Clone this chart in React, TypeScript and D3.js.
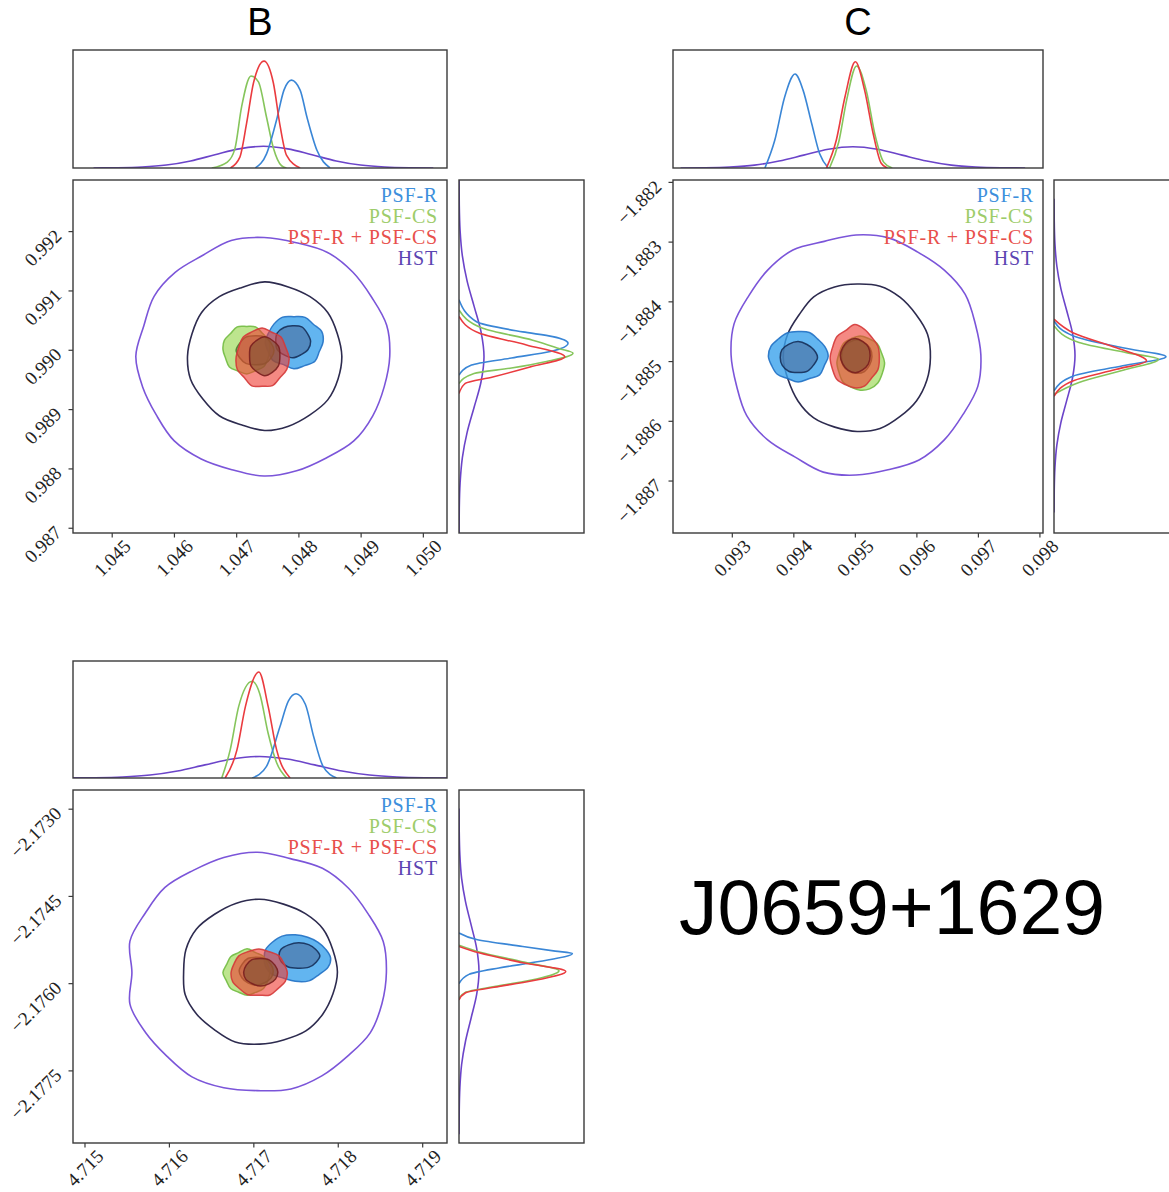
import React from 'react';
import * as d3 from 'd3';

// ---------- series ----------
const SERIES = ['PSF-R', 'PSF-CS', 'PSF-R + PSF-CS', 'HST'];
const LEGEND_COLORS = ['#3d8fdc', '#9dcc6a', '#e8504c', '#5b45b2'];
const LINE_COLORS = ['#3a86d6', '#86c55c', '#ea3b3f', '#6b44c9'];
const FILL_OUTER = ['#3ba3ec', '#91d443', '#ee3a30'];
const FILL_INNER = ['#476c9d', '#7c9359', '#805032'];
const STROKE_OUTER = ['#2271c4', '#72bb42', '#d43a3a'];
const STROKE_INNER = ['#16305a', '#4c7a2e', '#7a1f1f'];
const HST_STROKES = ['#7b55d9', '#2d2b4f'];

// ---------- panel B ----------
const bXTicks = [1.045, 1.046, 1.047, 1.048, 1.049, 1.05];
const bXLabels = ['1.045', '1.046', '1.047', '1.048', '1.049', '1.050'];
const bYTicks = [0.987, 0.988, 0.989, 0.99, 0.991, 0.992];
const bYLabels = ['0.987', '0.988', '0.989', '0.990', '0.991', '0.992'];
const bXDomain = [1.04437, 1.05038];
const bYDomain = [0.98692, 0.99287];
// [series (0 PSF-R, 1 PSF-CS, 2 PSF-R+PSF-CS, 3 HST), level (0 outer, 1 inner), cx, cy, rx, ry]
const bContours = [
  [3, 0, 1.04744, 0.9899, 0.00202, 0.002],
  [3, 1, 1.04745, 0.9899, 0.00124, 0.00124],
  [0, 0, 1.04792, 0.99014, 0.00046, 0.00044],
  [0, 1, 1.0479, 0.99015, 0.00028, 0.00027],
  [1, 0, 1.04716, 0.99001, 0.00038, 0.0004],
  [1, 1, 1.0473, 0.99, 0.0003, 0.00025],
  [2, 0, 1.04741, 0.98987, 0.00042, 0.00049],
  [2, 1, 1.04745, 0.9899, 0.00025, 0.00032],
];
const bWobble = [
  [1.0, 1.01, 0.99, 1.0, 1.01, 0.99, 1.0, 1.01, 0.98, 1.0, 1.01, 0.99, 1.02, 1.0, 0.99, 1.01, 1.0, 0.99, 1.01, 1.0, 0.99, 1.01, 1.0, 0.99],
  [1.0, 0.99, 1.01, 1.0, 0.99, 1.01, 0.98, 1.0, 1.01, 0.99, 1.0, 1.01, 0.99, 1.0, 0.98, 1.01, 1.0, 0.99, 1.01, 1.0],
  [1.02, 1.05, 0.96, 1.02, 0.97, 1.03, 0.98, 0.95, 1.0, 0.97, 1.02, 0.94, 1.03, 0.98, 1.04, 0.96],
  [1.03, 0.98, 1.04, 0.97, 1.0, 1.03, 0.97, 1.02, 0.98, 1.03, 0.96, 1.02],
  [0.98, 1.02, 0.96, 1.03, 0.98, 1.04, 0.96, 1.02, 1.0, 0.96, 1.03, 0.97, 1.02, 0.96, 1.02, 0.98],
  [1.0, 0.97, 1.03, 0.98, 1.02, 0.96, 1.03, 0.98, 1.02, 0.97, 1.03, 0.99],
  [1.03, 0.97, 1.02, 0.96, 1.03, 0.98, 1.02, 0.97, 1.0, 1.03, 0.96, 1.04, 0.97, 1.03, 0.96, 1.02],
  [0.98, 1.03, 0.97, 1.02, 0.98, 1.04, 0.97, 1.02, 0.96, 1.03, 0.98, 1.02],
];
// top marginal: [x, relative height]; order PSF-R, PSF-CS, PSF-R+PSF-CS, HST
const bTopMarg = [
  [[1.0473, 0], [1.04748, 0.12], [1.04764, 0.405], [1.04776, 0.66], [1.04788, 0.745], [1.04802, 0.66], [1.04813, 0.43], [1.04829, 0.15], [1.0485, 0]],
  [[1.0466, 0], [1.04685, 0.05], [1.04697, 0.16], [1.04708, 0.52], [1.04723, 0.78], [1.04735, 0.73], [1.04748, 0.43], [1.04759, 0.17], [1.04772, 0.02], [1.0478, 0]],
  [[1.0469, 0], [1.04705, 0.09], [1.04716, 0.38], [1.04727, 0.72], [1.04744, 0.906], [1.04759, 0.72], [1.0477, 0.35], [1.0478, 0.11], [1.04802, 0]],
  [[1.0447, 0.0004], [1.04509, 0.002], [1.04548, 0.008], [1.04587, 0.025], [1.04626, 0.06], [1.04665, 0.112], [1.04704, 0.162], [1.04743, 0.184],
   [1.04782, 0.162], [1.04821, 0.112], [1.0486, 0.06], [1.04899, 0.025], [1.04938, 0.008], [1.04977, 0.002], [1.05016, 0.0004]],
];
// right marginal: [y, relative width]
const bRightMarg = [
  [[0.99085, 0], [0.99048, 0.14], [0.99031, 0.51], [0.99023, 0.75], [0.99012, 0.872], [0.98998, 0.73], [0.98987, 0.42], [0.98975, 0.1], [0.98958, 0]],
  [[0.99068, 0], [0.99037, 0.19], [0.99017, 0.59], [0.99003, 0.8], [0.98995, 0.912], [0.98981, 0.7], [0.9897, 0.42], [0.98961, 0.12], [0.98944, 0]],
  [[0.99057, 0], [0.99029, 0.16], [0.99009, 0.54], [0.98989, 0.846], [0.98972, 0.57], [0.98955, 0.27], [0.98944, 0.05], [0.98927, 0]],
  [[0.992865, 0.0004], [0.99244, 0.0022], [0.992015, 0.0088], [0.99159, 0.027], [0.991165, 0.065], [0.99074, 0.121], [0.990315, 0.176], [0.98989, 0.2],
   [0.989465, 0.176], [0.98904, 0.121], [0.988615, 0.065], [0.98819, 0.027], [0.987765, 0.0088], [0.98734, 0.0022], [0.986915, 0.0004]],
];

// ---------- panel C ----------
const cXTicks = [0.093, 0.094, 0.095, 0.096, 0.097, 0.098];
const cXLabels = ['0.093', '0.094', '0.095', '0.096', '0.097', '0.098'];
const cYTicks = [-1.887, -1.886, -1.885, -1.884, -1.883, -1.882];
const cYLabels = ['\u22121.887', '\u22121.886', '\u22121.885', '\u22121.884', '\u22121.883', '\u22121.882'];
const cXDomain = [0.092036, 0.09805];
const cYDomain = [-1.88787, -1.88196];
const cContours = [
  [3, 0, 0.09501, -1.88489, 0.00203, 0.00201],
  [3, 1, 0.09503, -1.88493, 0.00119, 0.00124],
  [0, 0, 0.09407, -1.88491, 0.00047, 0.00042],
  [0, 1, 0.09407, -1.88493, 0.0003, 0.00026],
  [1, 0, 0.09508, -1.88502, 0.00038, 0.00045],
  [1, 1, 0.09502, -1.88492, 0.00025, 0.00028],
  [2, 0, 0.09499, -1.88494, 0.0004, 0.0005],
  [2, 1, 0.095, -1.8849, 0.00024, 0.00028],
];
const cWobble = [
  [1.0, 0.99, 1.01, 1.0, 0.99, 1.01, 1.0, 0.98, 1.01, 1.0, 0.99, 1.01, 1.0, 0.99, 1.01, 1.0, 0.98, 1.01, 1.0, 0.99, 1.01, 1.0, 0.99, 1.01],
  [1.0, 1.01, 0.99, 1.0, 1.01, 0.99, 1.0, 1.01, 0.98, 1.0, 1.01, 0.99, 1.0, 1.01, 0.99, 1.0, 1.01, 0.99, 1.0, 1.0],
  [1.04, 1.0, 0.96, 1.02, 0.98, 1.0, 0.97, 1.02, 1.03, 0.99, 1.02, 0.96, 1.03, 0.97, 1.05, 0.98],
  [1.05, 0.98, 0.96, 1.02, 0.99, 1.01, 0.97, 1.0, 1.03, 0.98, 1.02, 0.97],
  [1.04, 0.98, 1.02, 0.97, 1.0, 0.98, 1.02, 0.97, 1.0, 0.98, 1.03, 0.99, 1.02, 1.05, 1.06, 1.02],
  [1.0, 1.02, 0.98, 1.02, 0.99, 1.01, 0.98, 1.02, 1.0, 0.99, 1.02, 0.98],
  [1.0, 1.02, 0.98, 1.04, 1.12, 0.99, 1.02, 0.97, 1.0, 0.98, 1.02, 0.97, 1.0, 1.02, 0.96, 1.02],
  [1.0, 1.02, 0.98, 1.02, 1.0, 0.98, 1.02, 0.99, 1.0, 1.02, 0.98, 1.01],
];
const cTopMarg = [
  [[0.09353, 0], [0.09369, 0.235], [0.09385, 0.6], [0.09402, 0.796], [0.09415, 0.66], [0.09429, 0.377], [0.09442, 0.12], [0.09456, 0]],
  [[0.09458, 0], [0.09473, 0.22], [0.09486, 0.58], [0.09502, 0.865], [0.09518, 0.65], [0.09532, 0.28], [0.09546, 0.05], [0.0956, 0]],
  [[0.09453, 0], [0.09469, 0.235], [0.09483, 0.6], [0.095, 0.9], [0.09515, 0.66], [0.09529, 0.29], [0.09542, 0.04], [0.09552, 0]],
  [[0.09216, 0.0004], [0.09256, 0.002], [0.09296, 0.008], [0.09336, 0.024], [0.09376, 0.059], [0.09416, 0.109], [0.09456, 0.159], [0.09496, 0.18],
   [0.09536, 0.159], [0.09576, 0.109], [0.09616, 0.059], [0.09656, 0.024], [0.09696, 0.008], [0.09736, 0.002], [0.09776, 0.0004]],
];
const cRightMarg = [
  [[-1.88432, 0], [-1.88457, 0.155], [-1.88477, 0.55], [-1.88492, 0.896], [-1.88507, 0.55], [-1.88524, 0.155], [-1.88549, 0]],
  [[-1.8844, 0], [-1.88468, 0.2], [-1.88485, 0.58], [-1.88496, 0.835], [-1.88513, 0.58], [-1.88535, 0.2], [-1.88555, 0]],
  [[-1.88429, 0], [-1.88452, 0.155], [-1.88477, 0.5], [-1.88499, 0.74], [-1.88513, 0.5], [-1.88532, 0.155], [-1.88558, 0]],
  [[-1.882275, 0.0004], [-1.88265, 0.0019], [-1.883025, 0.0074], [-1.8834, 0.0227], [-1.883775, 0.0546], [-1.88415, 0.102], [-1.884525, 0.148], [-1.8849, 0.168],
   [-1.885275, 0.148], [-1.88565, 0.102], [-1.886025, 0.0546], [-1.8864, 0.0227], [-1.886775, 0.0074], [-1.88715, 0.0019], [-1.887525, 0.0004]],
];

// ---------- bottom panel ----------
const dXTicks = [4.715, 4.716, 4.717, 4.718, 4.719];
const dXLabels = ['4.715', '4.716', '4.717', '4.718', '4.719'];
const dYTicks = [-2.1775, -2.176, -2.1745, -2.173];
const dYLabels = ['\u22122.1775', '\u22122.1760', '\u22122.1745', '\u22122.1730'];
const dXDomain = [4.714858, 4.719288];
const dYDomain = [-2.17874, -2.17267];
const dContours = [
  [3, 0, 4.71704, -2.17581, 0.00153, 0.00205],
  [3, 1, 4.71707, -2.1758, 0.00092, 0.00124],
  [0, 0, 4.71749, -2.17556, 0.0004, 0.0004],
  [0, 1, 4.71753, -2.17552, 0.00024, 0.00022],
  [1, 0, 4.71692, -2.17581, 0.00027, 0.00038],
  [1, 1, 4.71703, -2.17578, 0.0002, 0.00024],
  [2, 0, 4.71706, -2.17581, 0.00033, 0.0004],
  [2, 1, 4.71708, -2.1758, 0.0002, 0.00024],
];
const dWobble = [
  [1.0, 1.01, 0.99, 1.0, 1.01, 0.99, 1.01, 1.0, 0.99, 1.01, 1.0, 1.02, 0.97, 1.02, 1.0, 0.99, 1.01, 1.0, 0.99, 1.01, 1.0, 0.99, 1.01, 1.0],
  [1.0, 0.99, 1.01, 1.0, 0.99, 1.01, 1.0, 0.99, 1.01, 1.0, 0.98, 1.01, 1.0, 0.99, 1.02, 1.0, 0.99, 1.01, 1.0, 0.99],
  [1.05, 0.98, 0.96, 0.97, 1.0, 1.02, 0.96, 0.95, 0.92, 0.95, 0.98, 0.93, 1.0, 1.06, 1.0, 1.05],
  [1.05, 0.98, 1.0, 1.02, 0.98, 1.0, 0.97, 0.98, 1.02, 0.97, 1.03, 1.0],
  [1.0, 0.97, 1.03, 0.98, 1.08, 0.98, 1.02, 0.97, 1.06, 0.98, 1.02, 0.96, 1.02, 0.97, 1.02, 0.98],
  [1.0, 0.98, 1.02, 0.98, 1.02, 0.97, 1.02, 0.99, 1.0, 1.02, 0.98, 1.01],
  [1.02, 0.98, 1.02, 0.97, 1.02, 0.98, 1.02, 0.97, 1.0, 1.02, 0.98, 1.03, 0.97, 1.04, 0.97, 1.02],
  [1.02, 0.98, 1.01, 0.97, 1.02, 0.98, 1.0, 1.02, 0.97, 1.01, 0.98, 1.02],
];
const dTopMarg = [
  [[4.71698, 0], [4.71715, 0.1], [4.71731, 0.44], [4.71741, 0.66], [4.7175, 0.72], [4.71761, 0.63], [4.71771, 0.35], [4.71782, 0.1], [4.71798, 0]],
  [[4.71662, 0], [4.71672, 0.24], [4.71682, 0.61], [4.71698, 0.827], [4.71707, 0.72], [4.71717, 0.38], [4.71727, 0.13], [4.71739, 0]],
  [[4.71666, 0], [4.7168, 0.24], [4.7169, 0.61], [4.71706, 0.906], [4.71717, 0.61], [4.71727, 0.24], [4.71743, 0]],
  [[4.714795, 0.0004], [4.71512, 0.002], [4.715445, 0.008], [4.71577, 0.025], [4.716095, 0.06], [4.71642, 0.112], [4.716745, 0.162], [4.71707, 0.184],
   [4.717395, 0.162], [4.71772, 0.112], [4.718045, 0.06], [4.71837, 0.025], [4.718695, 0.008], [4.71902, 0.002], [4.719345, 0.0004]],
];
const dRightMarg = [
  [[-2.17513, 0], [-2.17524, 0.14], [-2.17536, 0.51], [-2.17544, 0.77], [-2.17548, 0.907], [-2.17562, 0.64], [-2.17573, 0.32], [-2.17584, 0.08], [-2.176, 0]],
  [[-2.17534, 0], [-2.17546, 0.17], [-2.17563, 0.52], [-2.17578, 0.8], [-2.17592, 0.62], [-2.17604, 0.31], [-2.17615, 0.05], [-2.17626, 0]],
  [[-2.17536, 0], [-2.17547, 0.16], [-2.17564, 0.51], [-2.17579, 0.854], [-2.17593, 0.64], [-2.17605, 0.32], [-2.17616, 0.05], [-2.17628, 0]],
  [[-2.17299, 0.0004], [-2.17339, 0.0018], [-2.17379, 0.007], [-2.17419, 0.021], [-2.17459, 0.052], [-2.17499, 0.097], [-2.17539, 0.141], [-2.17579, 0.16],
   [-2.17619, 0.141], [-2.17659, 0.097], [-2.17699, 0.052], [-2.17739, 0.021], [-2.17779, 0.007], [-2.17819, 0.0018], [-2.17859, 0.0004]],
];

const TITLE_B = 'B';
const TITLE_C = 'C';
const OBJECT_NAME = 'J0659+1629';

const SERIF = '"Liberation Serif", "DejaVu Serif", serif';
const SANS = '"Liberation Sans", Arial, sans-serif';
const AXIS = '#3a3a3a';

type Box = { x: number; y: number; w: number; h: number };

function Panel(props: {
  main: Box; topY: number; topH: number; rightX: number; rightW: number;
  xDomain: number[]; yDomain: number[];
  xTicks: number[]; xLabels: string[]; yTicks: number[]; yLabels: string[];
  contours: number[][]; wobble: number[][];
  topMarg: number[][][]; rightMarg: number[][][]; id: string;
}) {
  const { main, topY, topH, rightX, rightW } = props;
  const x = d3.scaleLinear().domain(props.xDomain).range([main.x, main.x + main.w]);
  const y = d3.scaleLinear().domain(props.yDomain).range([main.y + main.h, main.y]);
  const my = d3.scaleLinear().domain([0, 1]).range([topY + topH, topY]);
  const mx = d3.scaleLinear().domain([0, 1]).range([rightX, rightX + rightW]);

  const blobPath = (c: number[], w: number[]) => {
    const [, , cx, cy, rx, ry] = c;
    const n = w.length;
    const pts: [number, number][] = w.map((f, i) => {
      const t = (2 * Math.PI * i) / n;
      return [x(cx + rx * f * Math.cos(t)), y(cy + ry * f * Math.sin(t))];
    });
    return d3.line().curve(d3.curveCatmullRomClosed.alpha(0.5))(pts) || '';
  };

  const topLine = d3.line<number[]>().x(d => x(d[0])).y(d => my(d[1])).curve(d3.curveMonotoneX);
  const rightLine = d3.line<number[]>().x(d => mx(d[1])).y(d => y(d[0])).curve(d3.curveMonotoneY);

  const order = [0, 1, 2, 3, 4, 5, 6, 7];
  const clipMain = `clip-main-${props.id}`;
  const clipTop = `clip-top-${props.id}`;
  const clipRight = `clip-right-${props.id}`;

  return (
    <g>
      <defs>
        <clipPath id={clipMain}><rect x={main.x} y={main.y} width={main.w} height={main.h} /></clipPath>
        <clipPath id={clipTop}><rect x={main.x} y={topY} width={main.w} height={topH} /></clipPath>
        <clipPath id={clipRight}><rect x={rightX} y={main.y} width={rightW} height={main.h} /></clipPath>
      </defs>
      <g clipPath={`url(#${clipMain})`}>
        {order.map(i => {
          const c = props.contours[i];
          const s = c[0];
          const lvl = c[1];
          const d = blobPath(c, props.wobble[i]);
          if (s === 3) {
            return <path key={i} d={d} fill="none" stroke={HST_STROKES[lvl]} strokeWidth={1.6} />;
          }
          return (
            <path key={i} d={d}
              fill={lvl === 0 ? FILL_OUTER[s] : FILL_INNER[s]}
              fillOpacity={lvl === 0 ? (s === 0 ? 0.8 : 0.6) : 0.6}
              stroke={lvl === 0 ? STROKE_OUTER[s] : STROKE_INNER[s]}
              strokeWidth={1.5} strokeOpacity={0.9} />
          );
        })}
      </g>
      {SERIES.map((name, i) => (
        <text key={name} x={main.x + main.w - 9} y={main.y + 22 + i * 21}
          textAnchor="end" fontFamily={SERIF} fontSize={20} letterSpacing={0.8}
          fill={LEGEND_COLORS[i]}>{name}</text>
      ))}
      <rect x={main.x} y={main.y} width={main.w} height={main.h} fill="none" stroke={AXIS} strokeWidth={1.4} />
      {props.xTicks.map((t, i) => (
        <g key={'x' + i}>
          <line x1={x(t)} x2={x(t)} y1={main.y + main.h} y2={main.y + main.h + 4.5} stroke={AXIS} strokeWidth={1.2} />
          <text transform={`translate(${x(t)},${main.y + main.h + 25}) rotate(-45)`}
            textAnchor="middle" dominantBaseline="central" fontFamily={SERIF} fontSize={19} fill="#222">
            {props.xLabels[i]}
          </text>
        </g>
      ))}
      {props.yTicks.map((t, i) => (
        <g key={'y' + i}>
          <line x1={main.x - 4.5} x2={main.x} y1={y(t)} y2={y(t)} stroke={AXIS} strokeWidth={1.2} />
          <text transform={`translate(${main.x - 15},${y(t) + 1}) rotate(-45)`}
            textAnchor="end" dominantBaseline="central" fontFamily={SERIF} fontSize={19} fill="#222">
            {props.yLabels[i]}
          </text>
        </g>
      ))}
      <g clipPath={`url(#${clipTop})`}>
        {[3, 1, 0, 2].map(s => (
          <path key={s} d={topLine(props.topMarg[s]) || ''} fill="none" stroke={LINE_COLORS[s]} strokeWidth={1.6} />
        ))}
      </g>
      <rect x={main.x} y={topY} width={main.w} height={topH} fill="none" stroke={AXIS} strokeWidth={1.4} />
      <g clipPath={`url(#${clipRight})`}>
        {[3, 0, 1, 2].map(s => {
          const pts = props.rightMarg[s].slice().sort((a, b) => b[0] - a[0]);
          return <path key={s} d={rightLine(pts) || ''} fill="none" stroke={LINE_COLORS[s]} strokeWidth={1.6} />;
        })}
      </g>
      <rect x={rightX} y={main.y} width={rightW} height={main.h} fill="none" stroke={AXIS} strokeWidth={1.4} />
    </g>
  );
}

export default function App() {
  return (
    <svg width={1169} height={1192} viewBox="0 0 1169 1192"
      style={{ position: 'absolute', left: 0, top: 0, display: 'block', background: '#fff' }}>
      <rect x={0} y={0} width={1169} height={1192} fill="#fff" />
      <text x={260} y={35} textAnchor="middle" fontFamily={SANS} fontSize={38} fill="#000">{TITLE_B}</text>
      <text x={858} y={35} textAnchor="middle" fontFamily={SANS} fontSize={38} fill="#000">{TITLE_C}</text>
      <Panel id="b" main={{ x: 73, y: 180, w: 374, h: 353 }} topY={50} topH={118} rightX={459} rightW={125}
        xDomain={bXDomain} yDomain={bYDomain} xTicks={bXTicks} xLabels={bXLabels} yTicks={bYTicks} yLabels={bYLabels}
        contours={bContours} wobble={bWobble} topMarg={bTopMarg} rightMarg={bRightMarg} />
      <Panel id="c" main={{ x: 673, y: 180, w: 370, h: 353 }} topY={50} topH={118} rightX={1054} rightW={125}
        xDomain={cXDomain} yDomain={cYDomain} xTicks={cXTicks} xLabels={cXLabels} yTicks={cYTicks} yLabels={cYLabels}
        contours={cContours} wobble={cWobble} topMarg={cTopMarg} rightMarg={cRightMarg} />
      <Panel id="d" main={{ x: 73, y: 790, w: 374, h: 353 }} topY={661} topH={117} rightX={459} rightW={125}
        xDomain={dXDomain} yDomain={dYDomain} xTicks={dXTicks} xLabels={dXLabels} yTicks={dYTicks} yLabels={dYLabels}
        contours={dContours} wobble={dWobble} topMarg={dTopMarg} rightMarg={dRightMarg} />
      <text x={892} y={934} textAnchor="middle" fontFamily={SANS} fontSize={77} fill="#000">{OBJECT_NAME}</text>
    </svg>
  );
}
